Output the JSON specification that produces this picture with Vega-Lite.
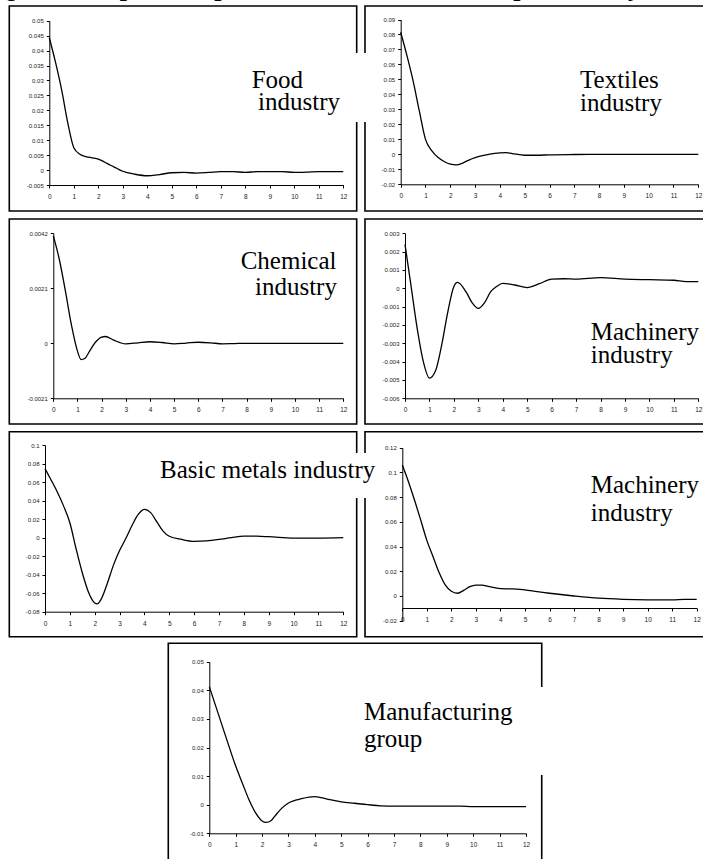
{
  "$schema": "https://vega.github.io/schema/vega-lite/v6.json",
  "width": 703,
  "height": 859,
  "autosize": {"type": "none"},
  "padding": 0,
  "background": "white",
  "title": {
    "text": "Figure 5: Impulse responses to a shock in labour productivity",
    "font": "Times New Roman, Liberation Serif, serif",
    "fontSize": 26,
    "fontWeight": "bold",
    "fontStyle": "italic",
    "color": "#000",
    "anchor": "start",
    "frame": "group",
    "offset": -1,
    "dx": -17
  },
  "config": {
    "view": {"stroke": null},
    "axis": {
      "grid": false,
      "domainColor": "#000",
      "domainWidth": 1,
      "tickColor": "#000",
      "tickWidth": 1,
      "tickSize": 3,
      "labelFont": "Liberation Sans, Arial, sans-serif",
      "labelColor": "#222",
      "labelOverlap": false,
      "labelFlush": false,
      "labelExpr": "'' + datum.value"
    },
    "axisX": {"labelPadding": 5.5, "labelFontSize": 6.5},
    "axisY": {"labelPadding": 3, "labelFontSize": 6},
    "text": {"font": "Times New Roman, Liberation Serif, serif", "fontSize": 25, "color": "#000", "align": "left", "baseline": "alphabetic"}
  },
  "resolve": {
    "scale": {"x": "independent", "y": "independent"},
    "axis": {"x": "independent", "y": "independent"}
  },
  "datasets": {
    "food": [
      {"t": 0, "v": 0.0443}, {"t": 0.25, "v": 0.0362}, {"t": 0.5, "v": 0.027}, {"t": 0.75, "v": 0.016},
      {"t": 1, "v": 0.0075}, {"t": 1.25, "v": 0.0053}, {"t": 1.5, "v": 0.0045}, {"t": 1.75, "v": 0.0041},
      {"t": 2, "v": 0.0037}, {"t": 2.25, "v": 0.0027}, {"t": 2.5, "v": 0.0016}, {"t": 2.75, "v": 0.0006},
      {"t": 3, "v": -0.0004}, {"t": 3.5, "v": -0.0014}, {"t": 4, "v": -0.0019}, {"t": 4.5, "v": -0.0015},
      {"t": 5, "v": -0.0009}, {"t": 5.5, "v": -0.0008}, {"t": 6, "v": -0.001}, {"t": 6.5, "v": -0.0008},
      {"t": 7, "v": -0.0005}, {"t": 7.5, "v": -0.0005}, {"t": 8, "v": -0.0008}, {"t": 8.5, "v": -0.0005},
      {"t": 9, "v": -0.0005}, {"t": 9.5, "v": -0.0005}, {"t": 10, "v": -0.0008}, {"t": 10.5, "v": -0.0007},
      {"t": 11, "v": -0.0005}, {"t": 11.5, "v": -0.0005}, {"t": 12, "v": -0.0005}
    ],
    "textiles": [
      {"t": 0, "v": 0.0815}, {"t": 0.25, "v": 0.066}, {"t": 0.5, "v": 0.049}, {"t": 0.75, "v": 0.029},
      {"t": 1, "v": 0.01}, {"t": 1.25, "v": 0.0025}, {"t": 1.5, "v": -0.002}, {"t": 1.75, "v": -0.0048},
      {"t": 2, "v": -0.0066}, {"t": 2.25, "v": -0.0071}, {"t": 2.5, "v": -0.0058}, {"t": 2.75, "v": -0.0038},
      {"t": 3, "v": -0.0022}, {"t": 3.5, "v": -0.0002}, {"t": 4, "v": 0.001}, {"t": 4.25, "v": 0.0011},
      {"t": 4.5, "v": 0.0005}, {"t": 5, "v": -0.0006}, {"t": 5.5, "v": -0.0006}, {"t": 6, "v": -0.0003},
      {"t": 7, "v": -0.0001}, {"t": 8, "v": 0}, {"t": 9, "v": 0}, {"t": 10, "v": 0}, {"t": 11, "v": 0}, {"t": 12, "v": 0}
    ],
    "chemical": [
      {"t": 0, "v": 0.0041}, {"t": 0.25, "v": 0.0032}, {"t": 0.5, "v": 0.002}, {"t": 0.75, "v": 0.0007},
      {"t": 1, "v": -0.0003}, {"t": 1.15, "v": -0.00062}, {"t": 1.3, "v": -0.00058}, {"t": 1.5, "v": -0.0003},
      {"t": 1.75, "v": 0.00005}, {"t": 2, "v": 0.00024}, {"t": 2.15, "v": 0.00026}, {"t": 2.5, "v": 0.00012},
      {"t": 3, "v": -0.00002}, {"t": 3.5, "v": 0.00002}, {"t": 4, "v": 0.00006}, {"t": 4.5, "v": 0.00003},
      {"t": 5, "v": -0.00002}, {"t": 5.5, "v": 0.00001}, {"t": 6, "v": 0.00004}, {"t": 6.5, "v": 0.00002},
      {"t": 7, "v": -0.00002}, {"t": 7.5, "v": -0.00001}, {"t": 8, "v": 0}, {"t": 9, "v": 0},
      {"t": 10, "v": 0}, {"t": 11, "v": 0}, {"t": 12, "v": 0}
    ],
    "machinery_a": [
      {"t": 0, "v": 0.0024}, {"t": 0.25, "v": 0.0001}, {"t": 0.5, "v": -0.0022}, {"t": 0.75, "v": -0.004},
      {"t": 1, "v": -0.0049}, {"t": 1.25, "v": -0.0045}, {"t": 1.5, "v": -0.0031}, {"t": 1.75, "v": -0.0013},
      {"t": 2, "v": 0.0001}, {"t": 2.15, "v": 0.00032}, {"t": 2.5, "v": -0.0002}, {"t": 2.75, "v": -0.0008},
      {"t": 3, "v": -0.0011}, {"t": 3.25, "v": -0.0008}, {"t": 3.5, "v": -0.0002}, {"t": 3.75, "v": 0.0001},
      {"t": 4, "v": 0.00027}, {"t": 4.5, "v": 0.00018}, {"t": 5, "v": 0.00004}, {"t": 5.5, "v": 0.00025},
      {"t": 6, "v": 0.0005}, {"t": 6.5, "v": 0.00052}, {"t": 7, "v": 0.0005}, {"t": 8, "v": 0.00058},
      {"t": 9, "v": 0.0005}, {"t": 10, "v": 0.00047}, {"t": 11, "v": 0.00044}, {"t": 11.5, "v": 0.00036},
      {"t": 12, "v": 0.00036}
    ],
    "basic_metals": [
      {"t": 0, "v": 0.0745}, {"t": 0.25, "v": 0.062}, {"t": 0.5, "v": 0.049}, {"t": 0.75, "v": 0.034},
      {"t": 1, "v": 0.016}, {"t": 1.25, "v": -0.012}, {"t": 1.5, "v": -0.038}, {"t": 1.75, "v": -0.059},
      {"t": 2, "v": -0.0705}, {"t": 2.1, "v": -0.0715}, {"t": 2.25, "v": -0.067}, {"t": 2.5, "v": -0.05},
      {"t": 2.75, "v": -0.03}, {"t": 3, "v": -0.014}, {"t": 3.25, "v": -0.001}, {"t": 3.5, "v": 0.013},
      {"t": 3.75, "v": 0.025}, {"t": 4, "v": 0.0305}, {"t": 4.25, "v": 0.027}, {"t": 4.5, "v": 0.017},
      {"t": 4.75, "v": 0.007}, {"t": 5, "v": 0.0015}, {"t": 5.5, "v": -0.002}, {"t": 6, "v": -0.004},
      {"t": 6.5, "v": -0.0035}, {"t": 7, "v": -0.002}, {"t": 7.5, "v": 0}, {"t": 8, "v": 0.0015},
      {"t": 8.5, "v": 0.0015}, {"t": 9, "v": 0.001}, {"t": 10, "v": -0.0005}, {"t": 11, "v": -0.0005},
      {"t": 12, "v": 0}
    ],
    "machinery_b": [
      {"t": 0, "v": 0.106}, {"t": 0.25, "v": 0.0925}, {"t": 0.5, "v": 0.0775}, {"t": 0.75, "v": 0.0615},
      {"t": 1, "v": 0.045}, {"t": 1.25, "v": 0.032}, {"t": 1.5, "v": 0.019}, {"t": 1.75, "v": 0.009},
      {"t": 2, "v": 0.0038}, {"t": 2.25, "v": 0.0022}, {"t": 2.5, "v": 0.0045}, {"t": 2.75, "v": 0.0075},
      {"t": 3, "v": 0.0088}, {"t": 3.25, "v": 0.0088}, {"t": 3.5, "v": 0.0078}, {"t": 4, "v": 0.006},
      {"t": 4.5, "v": 0.0057}, {"t": 5, "v": 0.005}, {"t": 5.5, "v": 0.0035}, {"t": 6, "v": 0.0022},
      {"t": 7, "v": 0}, {"t": 8, "v": -0.0018}, {"t": 9, "v": -0.0027}, {"t": 10, "v": -0.0031},
      {"t": 11, "v": -0.0032}, {"t": 11.5, "v": -0.0027}, {"t": 12, "v": -0.0027}
    ],
    "manufacturing": [
      {"t": 0, "v": 0.0413}, {"t": 0.25, "v": 0.0343}, {"t": 0.5, "v": 0.0273}, {"t": 0.75, "v": 0.0203},
      {"t": 1, "v": 0.0135}, {"t": 1.25, "v": 0.0076}, {"t": 1.5, "v": 0.0018}, {"t": 1.75, "v": -0.0028},
      {"t": 2, "v": -0.0057}, {"t": 2.15, "v": -0.0062}, {"t": 2.35, "v": -0.0055}, {"t": 2.5, "v": -0.0038},
      {"t": 2.75, "v": -0.0012}, {"t": 3, "v": 0.0006}, {"t": 3.5, "v": 0.0021}, {"t": 4, "v": 0.0028},
      {"t": 4.5, "v": 0.0019}, {"t": 5, "v": 0.001}, {"t": 5.5, "v": 0.0005}, {"t": 6, "v": 0},
      {"t": 6.5, "v": -0.0004}, {"t": 7, "v": -0.0005}, {"t": 8, "v": -0.0005}, {"t": 9, "v": -0.0005},
      {"t": 9.5, "v": -0.0005}, {"t": 10, "v": -0.0007}, {"t": 11, "v": -0.0007}, {"t": 12, "v": -0.0007}
    ]
  },
  "layer": [
    {
      "layer": [
        {
          "data": {"values": [{}]},
          "mark": {"type": "rect", "filled": false, "stroke": "#000", "strokeWidth": 1.6},
          "encoding": {
            "x": {"datum": -1.44}, "x2": {"datum": 12.55},
            "y": {"datum": 0.09901}, "y2": {"datum": -0.03782}
          }
        },
        {
          "data": {"name": "textiles"},
          "mark": {"type": "line", "color": "#000", "strokeWidth": 1.3, "interpolate": "monotone"},
          "encoding": {
            "x": {"field": "t", "type": "quantitative", "title": null,
              "scale": {"domain": [0, 12], "range": [400.7, 698.3], "nice": false, "zero": false},
              "axis": {"orient": "bottom", "offset": -674.7, "values": [0,1,2,3,4,5,6,7,8,9,10,11,12]}},
            "y": {"field": "v", "type": "quantitative", "title": null,
              "scale": {"domain": [-0.02, 0.09], "range": [184.3, 19.5], "nice": false, "zero": false},
              "axis": {"orient": "left", "offset": -400.7, "values": [-0.02,-0.01,0,0.01,0.02,0.03,0.04,0.05,0.06,0.07,0.08,0.09]}}
          }
        },
        {
          "data": {"values": [{"label": ["Textiles", "industry"], "t": 7.23, "v": 0.04428}]},
          "mark": {"type": "text", "lineHeight": 23},
          "encoding": {
            "x": {"field": "t", "type": "quantitative"},
            "y": {"field": "v", "type": "quantitative"},
            "text": {"field": "label"}
          }
        }
      ]
    },
    {
      "layer": [
        {
          "data": {"values": [{}]},
          "mark": {"type": "rect", "filled": false, "stroke": "#000", "strokeWidth": 1.6},
          "encoding": {
            "x": {"datum": -1.633}, "x2": {"datum": 12.547},
            "y": {"datum": 0.05492}, "y2": {"datum": -0.0137}
          }
        },
        {
          "data": {"name": "food"},
          "mark": {"type": "line", "color": "#000", "strokeWidth": 1.3, "interpolate": "monotone"},
          "encoding": {
            "x": {"field": "t", "type": "quantitative", "title": null,
              "scale": {"domain": [0, 12], "range": [49.3, 343.3], "nice": false, "zero": false},
              "axis": {"orient": "bottom", "offset": -674, "values": [0,1,2,3,4,5,6,7,8,9,10,11,12]}},
            "y": {"field": "v", "type": "quantitative", "title": null,
              "scale": {"domain": [-0.005, 0.05], "range": [185, 20.7], "nice": false, "zero": false},
              "axis": {"orient": "left", "offset": -49.3, "values": [-0.005,0,0.005,0.01,0.015,0.02,0.025,0.03,0.035,0.04,0.045,0.05]}}
          }
        },
        {
          "data": {"values": [{}]},
          "mark": {"type": "rect", "fill": "white", "stroke": null},
          "encoding": {
            "x": {"datum": 7.99}, "x2": {"datum": 13.01},
            "y": {"datum": 0.03919}, "y2": {"datum": 0.01609}
          }
        },
        {
          "data": {"values": [{"label": "Food", "t": 8.26, "v": 0.02757}, {"label": "industry", "t": 8.52, "v": 0.02011}]},
          "mark": {"type": "text"},
          "encoding": {
            "x": {"field": "t", "type": "quantitative"},
            "y": {"field": "v", "type": "quantitative"},
            "text": {"field": "label"}
          }
        }
      ]
    },
    {
      "layer": [
        {
          "data": {"values": [{}]},
          "mark": {"type": "rect", "filled": false, "stroke": "#000", "strokeWidth": 1.6},
          "encoding": {
            "x": {"datum": -1.637}, "x2": {"datum": 12.56},
            "y": {"datum": 0.00378}, "y2": {"datum": -0.0074}
          }
        },
        {
          "data": {"name": "machinery_a"},
          "mark": {"type": "line", "color": "#000", "strokeWidth": 1.3, "interpolate": "monotone"},
          "encoding": {
            "x": {"field": "t", "type": "quantitative", "title": null,
              "scale": {"domain": [0, 12], "range": [405, 698.3], "nice": false, "zero": false},
              "axis": {"orient": "bottom", "offset": -460.7, "values": [0,1,2,3,4,5,6,7,8,9,10,11,12]}},
            "y": {"field": "v", "type": "quantitative", "title": null,
              "scale": {"domain": [-0.006, 0.003], "range": [398.3, 233.3], "nice": false, "zero": false},
              "axis": {"orient": "left", "offset": -405, "values": [-0.006,-0.005,-0.004,-0.003,-0.002,-0.001,0,0.001,0.002,0.003]}}
          }
        },
        {
          "data": {"values": [{"label": ["Machinery", "industry"], "t": 7.598, "v": -0.00282}]},
          "mark": {"type": "text", "lineHeight": 23.3},
          "encoding": {
            "x": {"field": "t", "type": "quantitative"},
            "y": {"field": "v", "type": "quantitative"},
            "text": {"field": "label"}
          }
        }
      ]
    },
    {
      "layer": [
        {
          "data": {"values": [{}]},
          "mark": {"type": "rect", "filled": false, "stroke": "#000", "strokeWidth": 1.6},
          "encoding": {
            "x": {"datum": -1.821}, "x2": {"datum": 12.554},
            "y": {"datum": 0.004746}, "y2": {"datum": -0.003081}
          }
        },
        {
          "data": {"name": "chemical"},
          "mark": {"type": "line", "color": "#000", "strokeWidth": 1.3, "interpolate": "monotone"},
          "encoding": {
            "x": {"field": "t", "type": "quantitative", "title": null,
              "scale": {"domain": [0, 12], "range": [53.3, 343.3], "nice": false, "zero": false},
              "axis": {"orient": "bottom", "offset": -460.7, "values": [0,1,2,3,4,5,6,7,8,9,10,11,12]}},
            "y": {"field": "v", "type": "quantitative", "title": null,
              "scale": {"domain": [-0.0021, 0.0042], "range": [398.3, 233.3], "nice": false, "zero": false},
              "axis": {"orient": "left", "offset": -53.3, "values": [-0.0021, 0, 0.0021, 0.0042]}}
          }
        },
        {
          "data": {"values": [{"label": "Chemical", "t": 7.754, "v": 0.002825}, {"label": "industry", "t": 8.346, "v": 0.001844}]},
          "mark": {"type": "text"},
          "encoding": {
            "x": {"field": "t", "type": "quantitative"},
            "y": {"field": "v", "type": "quantitative"},
            "text": {"field": "label"}
          }
        }
      ]
    },
    {
      "layer": [
        {
          "data": {"values": [{}]},
          "mark": {"type": "rect", "filled": false, "stroke": "#000", "strokeWidth": 1.6},
          "encoding": {
            "x": {"datum": -1.52}, "x2": {"datum": 12.62},
            "y": {"datum": 0.13295}, "y2": {"datum": -0.03295}
          }
        },
        {
          "data": {"name": "machinery_b"},
          "mark": {"type": "line", "color": "#000", "strokeWidth": 1.3, "interpolate": "monotone"},
          "encoding": {
            "x": {"field": "t", "type": "quantitative", "title": null,
              "scale": {"domain": [0, 12], "range": [402.3, 696.7], "nice": false, "zero": false},
              "axis": {"orient": "bottom", "offset": -251, "values": [0,1,2,3,4,5,6,7,8,9,10,11,12]}},
            "y": {"field": "v", "type": "quantitative", "title": null,
              "scale": {"domain": [-0.02, 0.12], "range": [620.7, 447.7], "nice": false, "zero": false},
              "axis": {"orient": "left", "offset": -402.3, "values": [-0.02,0,0.02,0.04,0.06,0.08,0.1,0.12]}}
          }
        },
        {
          "data": {"values": [{"label": ["Machinery", "industry"], "t": 7.68, "v": 0.0831}]},
          "mark": {"type": "text", "lineHeight": 27.7},
          "encoding": {
            "x": {"field": "t", "type": "quantitative"},
            "y": {"field": "v", "type": "quantitative"},
            "text": {"field": "label"}
          }
        }
      ]
    },
    {
      "layer": [
        {
          "data": {"values": [{}]},
          "mark": {"type": "rect", "filled": false, "stroke": "#000", "strokeWidth": 1.6},
          "encoding": {
            "x": {"datum": -1.436}, "x2": {"datum": 12.539},
            "y": {"datum": 0.11436}, "y2": {"datum": -0.107}
          }
        },
        {
          "data": {"name": "basic_metals"},
          "mark": {"type": "line", "color": "#000", "strokeWidth": 1.3, "interpolate": "monotone"},
          "encoding": {
            "x": {"field": "t", "type": "quantitative", "title": null,
              "scale": {"domain": [0, 12], "range": [45, 343.3], "nice": false, "zero": false},
              "axis": {"orient": "bottom", "offset": -247.3, "values": [0,1,2,3,4,5,6,7,8,9,10,11,12]}},
            "y": {"field": "v", "type": "quantitative", "title": null,
              "scale": {"domain": [-0.08, 0.1], "range": [611.7, 445], "nice": false, "zero": false},
              "axis": {"orient": "left", "offset": -45, "values": [-0.08,-0.06,-0.04,-0.02,0,0.02,0.04,0.06,0.08,0.1]}}
          }
        },
        {
          "data": {"values": [{}]},
          "mark": {"type": "rect", "fill": "white", "stroke": null},
          "encoding": {
            "x": {"datum": 4.425}, "x2": {"datum": 13.356},
            "y": {"datum": 0.09136}, "y2": {"datum": 0.04277}
          }
        },
        {
          "data": {"values": [{"label": "Basic metals industry", "t": 4.626, "v": 0.06383}]},
          "mark": {"type": "text"},
          "encoding": {
            "x": {"field": "t", "type": "quantitative"},
            "y": {"field": "v", "type": "quantitative"},
            "text": {"field": "label"}
          }
        }
      ]
    },
    {
      "layer": [
        {
          "data": {"values": [{}]},
          "mark": {"type": "rect", "filled": false, "stroke": "#000", "strokeWidth": 1.6},
          "encoding": {
            "x": {"datum": -1.554}, "x2": {"datum": 12.596},
            "y": {"datum": 0.05643}, "y2": {"datum": -0.02283}
          }
        },
        {
          "data": {"name": "manufacturing"},
          "mark": {"type": "line", "color": "#000", "strokeWidth": 1.3, "interpolate": "monotone"},
          "encoding": {
            "x": {"field": "t", "type": "quantitative", "title": null,
              "scale": {"domain": [0, 12], "range": [209.3, 526], "nice": false, "zero": false},
              "axis": {"orient": "bottom", "offset": -25.7, "values": [0,1,2,3,4,5,6,7,8,9,10,11,12]}},
            "y": {"field": "v", "type": "quantitative", "title": null,
              "scale": {"domain": [-0.01, 0.05], "range": [833.3, 661.7], "nice": false, "zero": false},
              "axis": {"orient": "left", "offset": -209.3, "values": [-0.01,0,0.01,0.02,0.03,0.04,0.05]}}
          }
        },
        {
          "data": {"values": [{}]},
          "mark": {"type": "rect", "fill": "white", "stroke": null},
          "encoding": {
            "x": {"datum": 5.635}, "x2": {"datum": 12.76},
            "y": {"datum": 0.04115}, "y2": {"datum": 0.01038}
          }
        },
        {
          "data": {"values": [{"label": ["Manufacturing", "group"], "t": 5.862, "v": 0.02962}]},
          "mark": {"type": "text", "lineHeight": 26.7},
          "encoding": {
            "x": {"field": "t", "type": "quantitative"},
            "y": {"field": "v", "type": "quantitative"},
            "text": {"field": "label"}
          }
        }
      ]
    }
  ]
}
